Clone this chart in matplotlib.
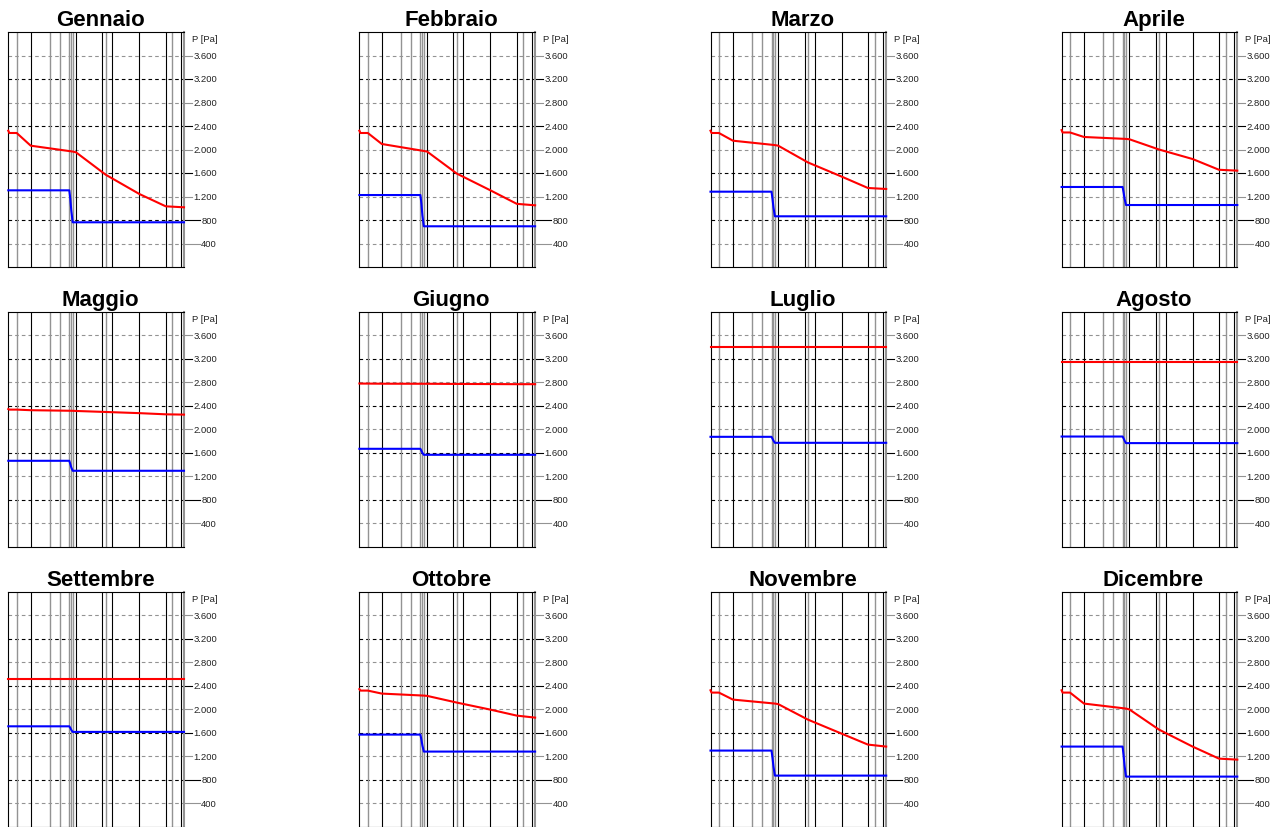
import matplotlib
matplotlib.use('Agg')
import matplotlib.pyplot as plt
from matplotlib.lines import Line2D
from matplotlib.transforms import IdentityTransform

# Mesi (un pannello per mese)
mesi = ['Gennaio', 'Febbraio', 'Marzo', 'Aprile', 'Maggio', 'Giugno',
        'Luglio', 'Agosto', 'Settembre', 'Ottobre', 'Novembre', 'Dicembre']

# Bordi degli strati della parete (spessore cumulato, mm)
bordi = [0, 8.4, 22.4, 41.7, 51.7, 61.0, 62.7, 64.4, 67.7, 94.0, 97.4,
         104.0, 131.0, 157.4, 164.0, 172.4, 175.7]
GR = '#939393'
colori_bordi = ['k', GR, 'k', GR, GR, GR, GR, GR, 'k', 'k', GR, 'k', 'k', 'k', GR, 'k', GR]

# Pressione di saturazione [Pa] nei nodi x_sat
x_sat = [0, 1, 8.4, 22.4, 64.4, 67.7, 97.4, 131.0, 157.4, 175.7]
p_sat = [
    [2320, 2281, 2281, 2065, 1965, 1952, 1571, 1243, 1033, 1016],
    [2320, 2281, 2281, 2094, 1975, 1965, 1590, 1305, 1075, 1050],
    [2320, 2281, 2281, 2150, 2075, 2065, 1780, 1540, 1345, 1328],
    [2330, 2290, 2290, 2213, 2180, 2175, 2000, 1838, 1655, 1640],
    [2345, 2335, 2335, 2325, 2315, 2312, 2295, 2275, 2255, 2250],
    [2780, 2778, 2778, 2776, 2775, 2775, 2772, 2770, 2768, 2768],
    [3405, 3405, 3405, 3405, 3405, 3405, 3405, 3405, 3405, 3405],
    [3143, 3143, 3143, 3143, 3143, 3143, 3143, 3143, 3143, 3143],
    [2514, 2514, 2514, 2514, 2514, 2514, 2514, 2514, 2514, 2514],
    [2340, 2315, 2315, 2264, 2230, 2225, 2111, 1991, 1889, 1855],
    [2320, 2281, 2281, 2162, 2094, 2085, 1821, 1583, 1396, 1362],
    [2320, 2281, 2281, 2094, 2009, 1995, 1651, 1362, 1157, 1140],
]

# Pressione di vapore [Pa] nei nodi x_vap
x_vap = [0, 61.0, 62.0, 63.0, 64.4, 175.7]
p_vap = [
    [1305, 1305, 1160, 960, 761, 761],
    [1225, 1225, 1080, 880, 693, 693],
    [1282, 1282, 1160, 1010, 863, 863],
    [1362, 1362, 1270, 1160, 1055, 1055],
    [1464, 1464, 1410, 1350, 1294, 1294],
    [1668, 1668, 1635, 1600, 1566, 1566],
    [1872, 1872, 1840, 1805, 1770, 1770],
    [1877, 1877, 1845, 1805, 1765, 1765],
    [1707, 1707, 1680, 1645, 1612, 1612],
    [1566, 1566, 1480, 1380, 1277, 1277],
    [1294, 1294, 1170, 1020, 868, 868],
    [1362, 1362, 1210, 1030, 851, 851],
]

tick_val = [400, 800, 1200, 1600, 2000, 2400, 2800, 3200, 3600]
tick_col = [GR, 'k', GR, 'k', GR, 'k', GR, 'k', GR]

W, H = 1287, 828
fig = plt.figure(figsize=(W / 100, H / 100), dpi=100)
plt.rcParams['lines.scale_dashes'] = False

etichette = []
for i, nome in enumerate(mesi):
    r, c = divmod(i, 4)
    left = 8.3 + 351.1 * c
    top = 33 + 279.8 * r
    ax = fig.add_axes([left / W, 1 - (top + 235) / H, 175.7 / W, 235 / H])
    ax.set_xlim(bordi[0], bordi[-1])
    ax.set_ylim(0, 4000)
    ax.set_xticks([])
    ax.set_yticks([])
    for s in ['left', 'top', 'bottom']:
        ax.spines[s].set_linewidth(0.8)
        ax.spines[s].set_color('k')
    ax.spines['right'].set_color(GR)
    ax.spines['right'].set_linewidth(1.5)

    for xb, cb in zip(bordi[1:-1], colori_bordi[1:-1]):
        ax.axvline(xb, color=cb, lw=1.0 if cb != 'k' else 0.8, zorder=1)
    for v, cl in zip(tick_val, tick_col):
        ax.axhline(v, color=cl, lw=0.8, ls=(0, (2.6, 2.2)), zorder=0.5)
        t = ax.annotate(f"{v:,}".replace(',', '.'), xy=(1, v), xycoords=ax.get_yaxis_transform(),
                        xytext=(23.8, 0), textcoords='offset points', ha='right', va='center',
                        fontsize=6.8, family='Liberation Sans', color='#222222')
        etichette.append((ax, t, v, cl))
    ax.annotate('P [Pa]', xy=(1, 1), xycoords='axes fraction', xytext=(23.8, -5),
                textcoords='offset points', ha='right', va='center',
                fontsize=6.8, family='Liberation Sans', color='#222222')

    ax.plot(x_sat, p_sat[i], color='#ff0000', lw=1.5, zorder=3, clip_on=False)
    ax.plot(x_vap, p_vap[i], color='#0000ff', lw=1.5, zorder=3, clip_on=False)
    ax.text(0.523, 1 + 7 / 235, nome, transform=ax.transAxes, ha='center', va='baseline',
            fontsize=16, fontweight='bold', family='Liberation Sans')

# trattini dei tick: dal bordo destro fino all'etichetta
fig.canvas.draw()
rend = fig.canvas.get_renderer()
for ax, t, v, cl in etichette:
    bb = t.get_window_extent(rend)
    x0, y0 = ax.transData.transform((ax.get_xlim()[1], v))
    fig.add_artist(Line2D([x0 + 1, bb.x0 - 1.5], [y0, y0], color=cl, lw=0.8,
                          transform=IdentityTransform()))

plt.savefig('out.png', dpi=100)
